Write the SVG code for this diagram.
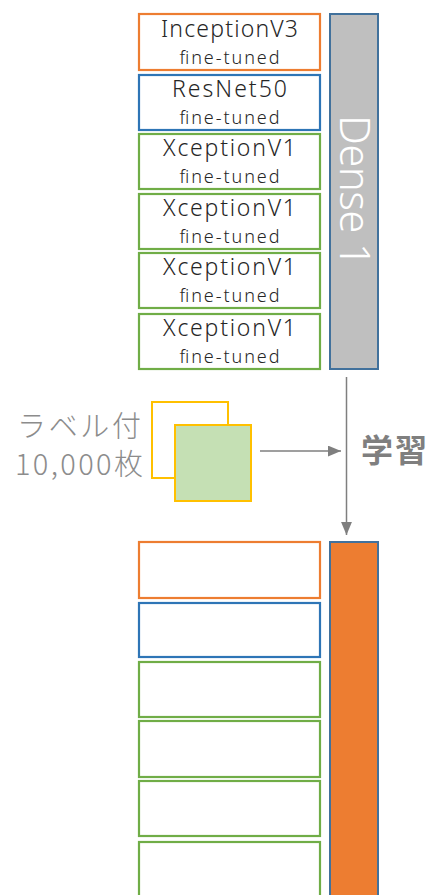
<svg xmlns="http://www.w3.org/2000/svg" width="432" height="895" viewBox="0 0 432 895">
<defs>
<style>
.box{fill:#fff;stroke-width:2.2}
.o{stroke:#ed7d31}.b{stroke:#2e75b6}.g{stroke:#70ad47}
.t1{font-family:"Noto Sans","Noto Sans CJK JP",sans-serif;font-size:23px;fill:#262626;text-anchor:middle;font-weight:300}
.t2{font-family:"Noto Sans","Noto Sans CJK JP",sans-serif;font-size:18px;fill:#262626;text-anchor:middle;font-weight:300}
.conn{stroke:#7f7f7f;stroke-width:1.5;fill:none}
.lbl{font-family:"Noto Sans CJK JP",sans-serif;font-size:29px;fill:#8c8c8c;font-weight:300}
</style>
<marker id="ah2" viewBox="0 0 12 10" refX="12" refY="5" markerWidth="13" markerHeight="11" markerUnits="userSpaceOnUse" orient="auto">
<path d="M0,0L12,5L0,10z" fill="#7f7f7f"/>
</marker>
</defs>
<rect width="432" height="895" fill="#fff"/>

<g id="top-models">
<g id="n-inception"><rect class="box o" x="139" y="14" width="181" height="56"/><text class="t1" x="229.5" y="37" textLength="137">InceptionV3</text><text class="t2" x="229.5" y="64" textLength="100">fine-tuned</text></g>
<g id="n-resnet"><rect class="box b" x="139" y="75" width="181" height="55"/><text class="t1" x="229.5" y="97" textLength="115">ResNet50</text><text class="t2" x="229.5" y="124" textLength="100">fine-tuned</text></g>
<g id="n-xc1"><rect class="box g" x="139" y="134" width="181" height="55"/><text class="t1" x="229.5" y="156" textLength="133">XceptionV1</text><text class="t2" x="229.5" y="183" textLength="100">fine-tuned</text></g>
<g id="n-xc2"><rect class="box g" x="139" y="194" width="181" height="55"/><text class="t1" x="229.5" y="216" textLength="133">XceptionV1</text><text class="t2" x="229.5" y="243" textLength="100">fine-tuned</text></g>
<g id="n-xc3"><rect class="box g" x="139" y="253" width="181" height="55"/><text class="t1" x="229.5" y="275" textLength="133">XceptionV1</text><text class="t2" x="229.5" y="302" textLength="100">fine-tuned</text></g>
<g id="n-xc4"><rect class="box g" x="139" y="314" width="181" height="55"/><text class="t1" x="229.5" y="336" textLength="133">XceptionV1</text><text class="t2" x="229.5" y="363" textLength="100">fine-tuned</text></g>
</g>

<g id="n-dense1">
<rect x="330" y="14" width="48" height="355" fill="#bfbfbf" stroke="#41719c" stroke-width="2"/>
<text transform="translate(340,191) rotate(90)" x="0" y="0" font-family="Noto Sans, sans-serif" font-size="42" font-weight="300" fill="#fff" text-anchor="middle" textLength="152">Dense 1</text>
</g>

<g id="n-data">
<rect x="152" y="402" width="76" height="76" fill="#fff" stroke="#ffc000" stroke-width="2"/>
<rect x="175" y="425" width="76" height="76" fill="#c5e0b4" stroke="#ffc000" stroke-width="2"/>
<text class="lbl" x="17" y="437" textLength="124">ラベル付</text>
<text class="lbl" x="15" y="475" textLength="128">10,000枚</text>
</g>

<g id="n-learn">
<text x="361" y="462" font-family="Noto Sans CJK JP, sans-serif" font-size="32" font-weight="700" fill="#7f7f7f" textLength="66">学習</text>
</g>

<g id="connectors">
<line class="conn" x1="260" y1="451" x2="341" y2="451" marker-end="url(#ah2)"/>
<line class="conn" x1="346.5" y1="377" x2="346.5" y2="535" marker-end="url(#ah2)"/>
</g>

<g id="bottom-models">
<g id="m-inception"><rect class="box o" x="139" y="542" width="181" height="56"/></g>
<g id="m-resnet"><rect class="box b" x="139" y="603" width="181" height="54"/></g>
<g id="m-xc1"><rect class="box g" x="139" y="662" width="181" height="55"/></g>
<g id="m-xc2"><rect class="box g" x="139" y="721" width="181" height="56"/></g>
<g id="m-xc3"><rect class="box g" x="139" y="781" width="181" height="55"/></g>
<g id="m-xc4"><rect class="box g" x="139" y="842" width="181" height="60"/></g>
</g>

<g id="n-dense1-trained">
<rect x="330" y="542" width="48" height="360" fill="#ed7d31" stroke="#41719c" stroke-width="2"/>
</g>
</svg>
